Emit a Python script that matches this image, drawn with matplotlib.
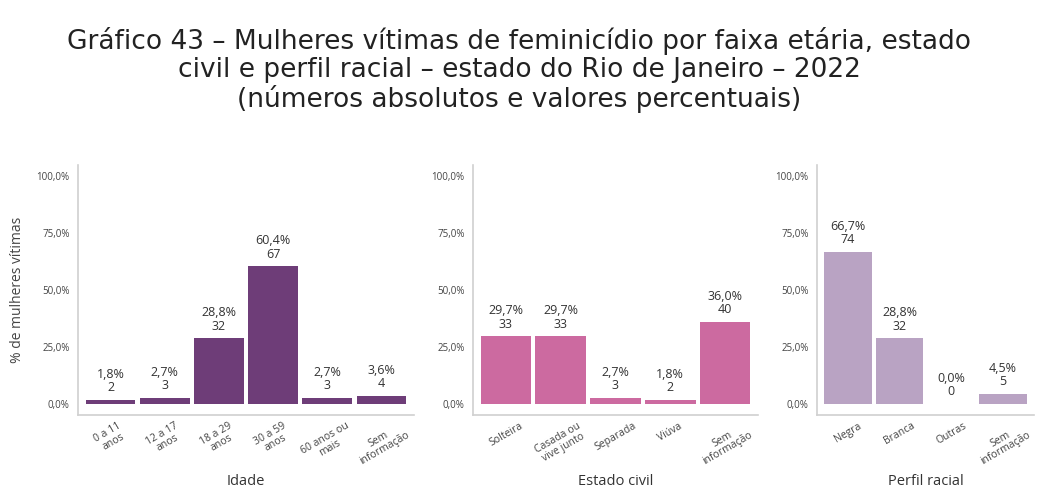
import matplotlib
matplotlib.use("Agg")
import matplotlib.pyplot as plt

plt.rcParams['font.family'] = ['Open Sans', 'DejaVu Sans']

title_lines = ["Gráfico 43 – Mulheres vítimas de feminicídio por faixa etária, estado",
               "civil e perfil racial – estado do Rio de Janeiro – 2022",
               "(números absolutos e valores percentuais)"]

idade_cats = ["0 a 11\nanos", "12 a 17\nanos", "18 a 29\nanos", "30 a 59\nanos",
              "60 anos ou\nmais", "Sem\ninformação"]
idade_pct = [1.8, 2.7, 28.8, 60.4, 2.7, 3.6]
idade_n = [2, 3, 32, 67, 3, 4]

civil_cats = ["Solteira", "Casada ou\nvive junto", "Separada", "Viúva", "Sem\ninformação"]
civil_pct = [29.7, 29.7, 2.7, 1.8, 36.0]
civil_n = [33, 33, 3, 2, 40]

raca_cats = ["Negra", "Branca", "Outras", "Sem\ninformação"]
raca_pct = [66.7, 28.8, 0.0, 4.5]
raca_n = [74, 32, 0, 5]

yticks = [0, 25, 50, 75, 100]
ytick_labels = ["0,0%", "25,0%", "50,0%", "75,0%", "100,0%"]

W, H = 1038, 490
fig = plt.figure(figsize=(W / 100, H / 100), dpi=100)

for line, ypx in zip(title_lines, [41, 70, 99]):
    fig.text(0.5, 1 - ypx / H, line, ha="center", va="center", fontsize=19,
             color="#222222", family=["DejaVu Sans"])

panels = [
    (idade_cats, idade_pct, idade_n, "#6e3d78", "Idade", (78, 414)),
    (civil_cats, civil_pct, civil_n, "#cc6aa0", "Estado civil", (473, 758)),
    (raca_cats, raca_pct, raca_n, "#b9a3c3", "Perfil racial", (817, 1034)),
]

y_top_px, y_bot_px = 165, 415
for i, (cats, pct, n, color, xlabel, (x0, x1)) in enumerate(panels):
    ax = fig.add_axes([x0 / W, 1 - y_bot_px / H, (x1 - x0) / W, (y_bot_px - y_top_px) / H])
    x = list(range(len(cats)))
    ax.bar(x, pct, width=0.92, color=color)
    for xi, p, c in zip(x, pct, n):
        ax.text(xi, p + 2.5, f"{p:.1f}%".replace(".", ",") + f"\n{c}", ha="center", va="bottom",
                fontsize=9, color="#333333", linespacing=1.05)
    ax.set_ylim(-4.8, 104.8)
    ax.set_xlim(-0.6, len(cats) - 0.4)
    ax.set_yticks(yticks)
    ax.set_yticklabels(ytick_labels, fontsize=7, color="#444444")
    ax.set_xticks(x)
    ax.set_xticklabels(cats, rotation=30, ha="center", va="top", fontsize=7.5, color="#444444",
                       linespacing=0.95)
    ax.tick_params(axis="both", length=0, pad=6)
    ax.tick_params(axis="x", pad=4)
    for s in ["top", "right"]:
        ax.spines[s].set_visible(False)
    for s in ["left", "bottom"]:
        ax.spines[s].set_color("#d0d0d0")
        ax.spines[s].set_linewidth(1.2)
    ax.set_xlabel(xlabel, fontsize=10.5, color="#333333", labelpad=5)
    if i == 0:
        ax.set_ylabel("% de mulheres vítimas", fontsize=10, color="#444444", labelpad=8)

fig.savefig("out.png", dpi=100)
